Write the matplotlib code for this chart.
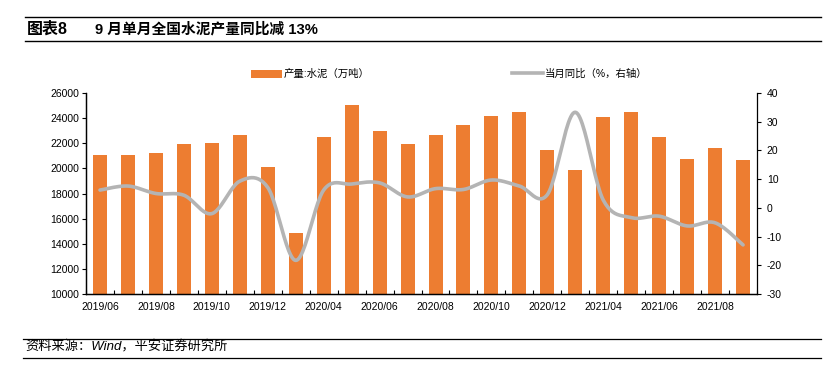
import numpy as np
import matplotlib
matplotlib.use("Agg")
import matplotlib.pyplot as plt
from matplotlib.patches import Patch
from matplotlib.lines import Line2D

plt.rcParams['font.family'] = ['Liberation Sans', 'Noto Sans CJK SC', 'DejaVu Sans']
plt.rcParams['axes.unicode_minus'] = False

# 月份（2020年、2021年1-2月合并，未单列）
months = ['2019/06', '2019/07', '2019/08', '2019/09', '2019/10', '2019/11', '2019/12',
          '2020/03', '2020/04', '2020/05', '2020/06', '2020/07', '2020/08', '2020/09',
          '2020/10', '2020/11', '2020/12',
          '2021/03', '2021/04', '2021/05', '2021/06', '2021/07', '2021/08', '2021/09']
# 产量:水泥（万吨）
output = [21070, 21070, 21200, 21920, 22000, 22640, 20080,
          14880, 22480, 25040, 23010, 21920, 22670, 23470,
          24210, 24480, 21470,
          19840, 24110, 24480, 22530, 20720, 21650, 20670]
# 当月同比（%）
yoy = [6.2, 7.6, 5.0, 4.4, -2.0, 9.3, 7.1,
       -18.3, 6.2, 8.3, 8.7, 3.8, 6.7, 6.4,
       9.7, 7.6, 4.6,
       33.3, 2.7, -3.4, -2.9, -6.3, -5.2, -12.9]

ORANGE = '#ED7D31'
GREY = '#B4B4B4'


# Excel-style smoothed line (Catmull-Rom through the points)
def smooth(xs, ys, n=24):
    xs = np.asarray(xs, float)
    ys = np.asarray(ys, float)
    px = np.concatenate([[xs[0]], xs, [xs[-1]]])
    py = np.concatenate([[ys[0]], ys, [ys[-1]]])
    out_x, out_y = [], []
    t = np.linspace(0, 1, n, endpoint=False)
    for i in range(1, len(px) - 2):
        for p, out in ((px, out_x), (py, out_y)):
            p0, p1, p2, p3 = p[i - 1], p[i], p[i + 1], p[i + 2]
            out.extend(0.5 * (2 * p1 + (-p0 + p2) * t
                              + (2 * p0 - 5 * p1 + 4 * p2 - p3) * t ** 2
                              + (-p0 + 3 * p1 - 3 * p2 + p3) * t ** 3))
    out_x.append(xs[-1])
    out_y.append(ys[-1])
    return np.array(out_x), np.array(out_y)


fig = plt.figure(figsize=(8.28, 3.82), dpi=100)
ax = fig.add_axes([0.1039, 0.2304, 0.8104, 0.5261])
ax2 = ax.twinx()

x = np.arange(len(months))
ax.bar(x, output, width=0.5, color=ORANGE, zorder=2)
ax.set_ylim(10000, 26000)
ax.set_yticks(np.arange(10000, 26001, 2000))
ax.set_xlim(-0.5, len(months) - 0.5)
ax.set_xticks(x[::2])
ax.set_xticklabels(months[::2], fontsize=7.5)
ax.set_xticks(np.arange(-0.5, len(months), 1), minor=True)
ax.tick_params(axis='x', which='major', length=0, pad=6)
ax.tick_params(axis='x', which='minor', direction='in', length=3, width=0.8)
ax.tick_params(axis='y', labelsize=7.5, length=3, width=0.8, pad=2)

sx, sy = smooth(x, yoy)
ax2.plot(sx, sy, color=GREY, lw=2.6, solid_capstyle='round', zorder=3)
ax2.set_ylim(-30, 40)
ax2.set_yticks(np.arange(-30, 41, 10))
ax2.tick_params(axis='y', labelsize=7.5, length=3, width=0.8, pad=4)
ax.set_zorder(1)
ax2.set_zorder(2)
ax2.patch.set_visible(False)

for a in (ax, ax2):
    a.spines['top'].set_visible(False)
    for s in ('left', 'right', 'bottom'):
        a.spines[s].set_linewidth(0.9)
ax.spines['right'].set_visible(False)

handles = [Patch(facecolor=ORANGE, edgecolor='none'),
           Line2D([0], [0], color=GREY, lw=2.6)]
fig.legend(handles, ['产量:水泥（万吨）', '当月同比（%，右轴）'], ncol=2,
           loc='center left', bbox_to_anchor=(0.292, 0.806), frameon=False,
           fontsize=7.5, handlelength=3.0, handleheight=0.8, handletextpad=0.15,
           columnspacing=13.6)

# title block
fig.add_artist(Line2D([25 / 828, 821 / 828], [1 - 17 / 382] * 2, color='black', lw=1.0))
fig.add_artist(Line2D([25 / 828, 821 / 828], [1 - 40.5 / 382] * 2, color='black', lw=1.0))
fig.text(27 / 828, 1 - 29.5 / 382, '图表8', fontsize=11.5, fontweight='bold', va='center')
fig.text(95 / 828, 1 - 29.5 / 382, '9 月单月全国水泥产量同比减 13%', fontsize=10.6,
         fontweight='bold', va='center')

# source block
fig.add_artist(Line2D([23 / 828, 821 / 828], [1 - 339 / 382] * 2, color='black', lw=0.9))
fig.add_artist(Line2D([23 / 828, 821 / 828], [1 - 358 / 382] * 2, color='black', lw=0.9))
fig.text(25 / 828, 1 - 347 / 382, '资料来源：Wind，平安证券研究所', fontsize=9.5,
         style='italic', va='center')

fig.savefig('out.png', dpi=100)
